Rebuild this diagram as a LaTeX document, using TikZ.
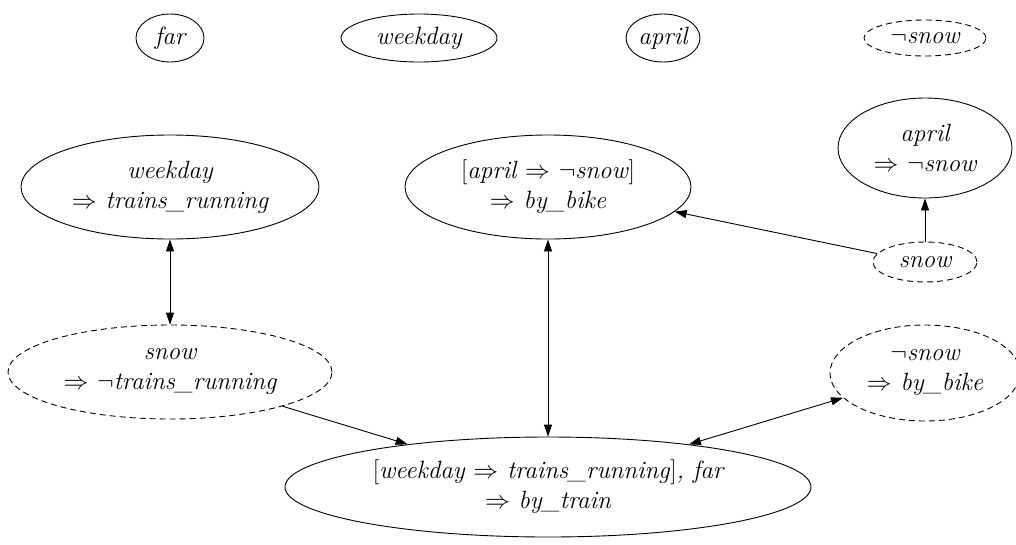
\documentclass[tikz,border=0pt]{standalone}
\usetikzlibrary{shapes.geometric,arrows.meta}
\begin{document}
\begin{tikzpicture}[x=1pt,y=-1pt,
  every node/.style={font=\fontsize{25}{30}\selectfont\itshape},
  lit/.style={ellipse,draw,line width=0.9pt,inner sep=0pt,align=center},
  hyp/.style={lit,dash pattern=on 6pt off 4pt},
  tip/.tip={Triangle[length=12pt,width=8pt]},
  link/.style={line width=0.9pt,-tip},
  both/.style={line width=0.9pt,tip-tip}]
\useasboundingbox (0,0) rectangle (1016,544);

% atoms
\node[lit,minimum width=68pt,minimum height=48pt]  (far)  at (170,38) {far};
\node[lit,minimum width=156pt,minimum height=48pt] (wkd)  at (419,38) {weekday};
\node[lit,minimum width=74pt,minimum height=48pt]  (apr)  at (663,38) {april};
\node[hyp,minimum width=122pt,minimum height=36pt] (nsn)  at (925,38) {$\neg$snow};

% rules
\node[lit,minimum width=298pt,minimum height=104pt] (wtr) at (170,187)
  {weekday\\$\Rightarrow$ trains\_running};
\node[lit,minimum width=286pt,minimum height=104pt] (abk) at (548,187)
  {\textup{[}april $\Rightarrow$ $\neg$snow\textup{]}\\$\Rightarrow$ by\_bike};
\node[lit,minimum width=174pt,minimum height=100pt] (ans) at (925,148)
  {april\\$\Rightarrow$ $\neg$snow};
\node[hyp,minimum width=104pt,minimum height=40pt] (snw) at (925,262) {snow};
\node[hyp,minimum width=324pt,minimum height=94pt] (snt) at (170,372)
  {snow\\$\Rightarrow$ $\neg$trains\_running};
\node[hyp,minimum width=190pt,minimum height=96pt] (nsb) at (925,373)
  {$\neg$snow\\$\Rightarrow$ by\_bike};
\node[lit,minimum width=526pt,minimum height=100pt] (btr) at (548,487)
  {\textup{[}weekday $\Rightarrow$ trains\_running\textup{]}, far\\$\Rightarrow$ by\_train};

% connectors
\draw[both] (wtr) -- (snt);
\draw[both] (abk) -- (btr);
\draw[link] (snt) -- (btr);
\draw[both] (nsb) -- (btr);
\draw[link] (snw.170) -- (abk.-11);
\draw[link] (snw) -- (ans);
\end{tikzpicture}
\end{document}
